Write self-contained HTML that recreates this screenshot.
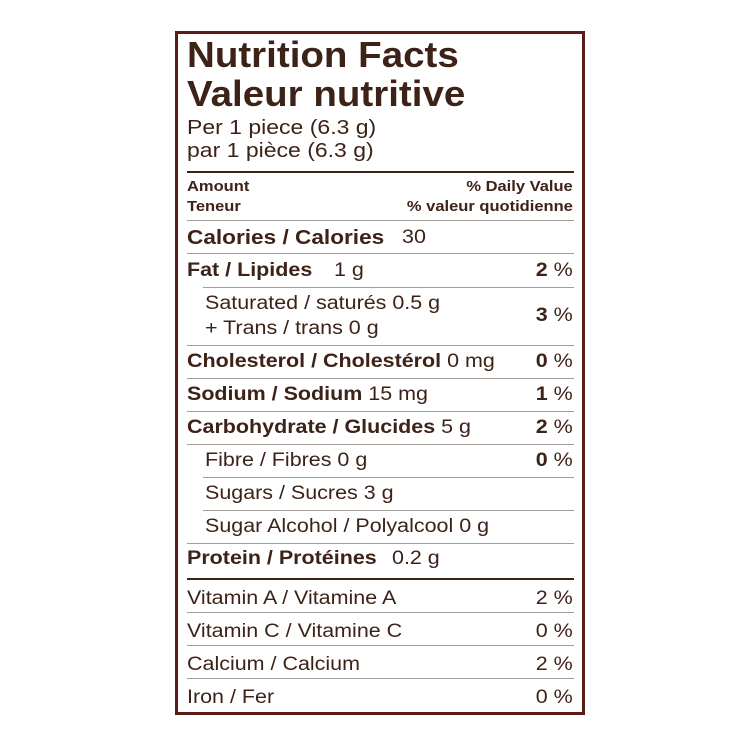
<!DOCTYPE html>
<html><head><meta charset="utf-8"><style>
html,body{margin:0;padding:0;background:#fff;}
body{width:750px;height:750px;position:relative;overflow:hidden;font-family:"Liberation Sans",Arial,sans-serif;color:#3d2218;}
.box{position:absolute;left:175px;top:31px;width:404px;height:678px;border:3px solid #5a1c16;}
.t{position:absolute;white-space:nowrap;line-height:1;}
.l{transform-origin:left center;}
.r{transform-origin:right center;right:177px;}
.b{font-weight:bold;}
.ln{position:absolute;height:1px;background:#a39d99;right:176px;}
.th{position:absolute;height:2px;background:#3d2218;left:187px;right:176px;}
.f19{font-size:19px;transform:scaleX(1.13);}
</style></head><body>
<div class="box"></div>
<div class="t l b" style="left:187px;top:37px;font-size:36px;transform:scaleX(1.07)">Nutrition Facts</div>
<div class="t l b" style="left:187px;top:76px;font-size:36px;transform:scaleX(1.07)">Valeur nutritive</div>
<div class="t l" style="left:187px;top:118px;font-size:20px;transform:scaleX(1.15)">Per 1 piece (6.3 g)</div>
<div class="t l" style="left:187px;top:141px;font-size:20px;transform:scaleX(1.15)">par 1 pièce (6.3 g)</div>
<div class="th" style="top:171px"></div>
<div class="t l b" style="left:187px;top:179px;font-size:15px;transform:scaleX(1.1)">Amount</div>
<div class="t l b" style="left:187px;top:199px;font-size:15px;transform:scaleX(1.1)">Teneur</div>
<div class="t r b" style="top:179px;font-size:15px;transform:scaleX(1.1)">% Daily Value</div>
<div class="t r b" style="top:199px;font-size:15px;transform:scaleX(1.1)">% valeur quotidienne</div>
<div class="ln" style="left:187px;top:220px"></div>

<div class="t l b f19" style="left:187px;top:228px;font-size:20px">Calories / Calories</div>
<div class="t l f19" style="left:402px;top:228px">30</div>
<div class="ln" style="left:187px;top:253px"></div>

<div class="t l f19" style="left:187px;top:261px"><b>Fat / Lipides</b></div>
<div class="t l f19" style="left:334px;top:261px">1 g</div>
<div class="t r f19" style="top:261px"><b>2</b> %</div>
<div class="ln" style="left:203px;top:287px"></div>

<div class="t l f19" style="left:205px;top:294px">Saturated / saturés 0.5 g</div>
<div class="t l f19" style="left:205px;top:319px">+ Trans / trans 0 g</div>
<div class="t r f19" style="top:306px"><b>3</b> %</div>
<div class="ln" style="left:187px;top:345px"></div>

<div class="t l f19" style="left:187px;top:352px"><b>Cholesterol / Cholestérol</b> 0 mg</div>
<div class="t r f19" style="top:352px"><b>0</b> %</div>
<div class="ln" style="left:187px;top:378px"></div>

<div class="t l f19" style="left:187px;top:385px"><b>Sodium / Sodium</b> 15 mg</div>
<div class="t r f19" style="top:385px"><b>1</b> %</div>
<div class="ln" style="left:187px;top:411px"></div>

<div class="t l f19" style="left:187px;top:418px"><b>Carbohydrate / Glucides</b> 5 g</div>
<div class="t r f19" style="top:418px"><b>2</b> %</div>
<div class="ln" style="left:187px;top:444px"></div>

<div class="t l f19" style="left:205px;top:451px">Fibre / Fibres 0 g</div>
<div class="t r f19" style="top:451px"><b>0</b> %</div>
<div class="ln" style="left:203px;top:477px"></div>

<div class="t l f19" style="left:205px;top:484px">Sugars / Sucres 3 g</div>
<div class="ln" style="left:203px;top:510px"></div>

<div class="t l f19" style="left:205px;top:517px">Sugar Alcohol / Polyalcool 0 g</div>
<div class="ln" style="left:187px;top:543px"></div>

<div class="t l b f19" style="left:187px;top:549px">Protein / Protéines</div>
<div class="t l f19" style="left:392px;top:549px">0.2 g</div>
<div class="th" style="top:578px"></div>

<div class="t l f19" style="left:187px;top:589px">Vitamin A / Vitamine A</div>
<div class="t r f19" style="top:589px">2 %</div>
<div class="ln" style="left:187px;top:612px"></div>
<div class="t l f19" style="left:187px;top:622px">Vitamin C / Vitamine C</div>
<div class="t r f19" style="top:622px">0 %</div>
<div class="ln" style="left:187px;top:645px"></div>
<div class="t l f19" style="left:187px;top:655px">Calcium / Calcium</div>
<div class="t r f19" style="top:655px">2 %</div>
<div class="ln" style="left:187px;top:678px"></div>
<div class="t l f19" style="left:187px;top:688px">Iron / Fer</div>
<div class="t r f19" style="top:688px">0 %</div>
</body></html>
